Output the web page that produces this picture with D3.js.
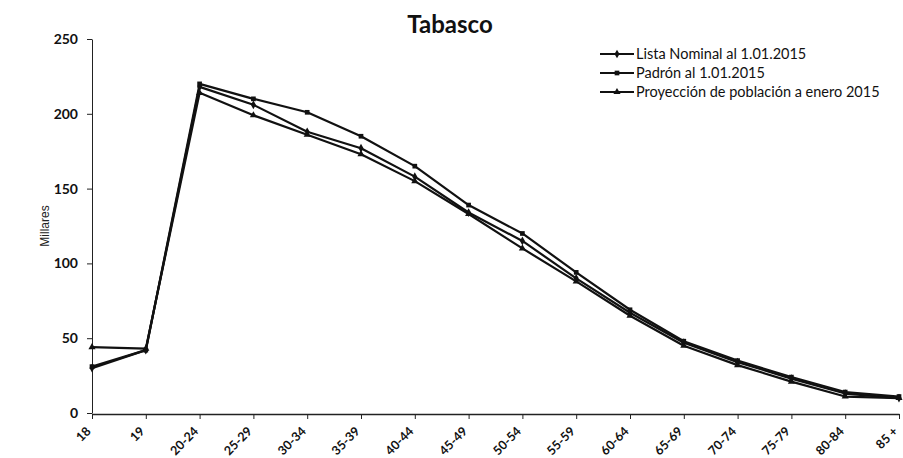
<!DOCTYPE html>
<html><head><meta charset="utf-8">
<script src="https://cdn.jsdelivr.net/npm/d3@7/dist/d3.min.js"></script>
<style>
body{margin:0;background:#fff;}
svg{display:block;}
</style></head>
<body>
<svg id="chart" width="903" height="458"></svg>
<script>
const categories = ["18","19","20-24","25-29","30-34","35-39","40-44","45-49","50-54","55-59","60-64","65-69","70-74","75-79","80-84","85 +"];
const listaNominal = [30, 42, 218, 206, 188, 177, 158, 134, 115, 90, 67, 47, 34, 23, 13, 10];
const padron       = [31, 42, 220, 210, 201, 185, 165, 139, 120, 94, 69, 48, 35, 24, 14, 11];
const proyeccion   = [44, 43, 214, 199, 186, 173, 155, 133, 110, 88, 65, 45, 32, 21, 11, 10];
const seriesNames = ["Lista Nominal al 1.01.2015", "Padrón al 1.01.2015", "Proyección de población a enero 2015"];
const yTicks = [0, 50, 100, 150, 200, 250];

const series = [
  {name: seriesNames[0], values: listaNominal, marker: d3.symbolDiamond},
  {name: seriesNames[1], values: padron, marker: d3.symbolSquare},
  {name: seriesNames[2], values: proyeccion, marker: d3.symbolTriangle}
];

const svg = d3.select("#chart");
const font = "Lato, 'Open Sans', sans-serif";

const x = d3.scalePoint().domain(categories).range([92, 899]);
const y = d3.scaleLinear().domain([0, 250]).range([413, 39]);

// Axes
const yAxis = svg.append("g").attr("transform", "translate(92,0)")
  .call(d3.axisLeft(y).tickValues(yTicks).tickSize(5).tickSizeOuter(0).tickPadding(9));
yAxis.selectAll("text").attr("font-family", font).attr("font-size", 14).attr("font-weight", "bold").attr("fill", "#111");
yAxis.selectAll("line,path").attr("stroke", "#222");

const xAxis = svg.append("g").attr("transform", "translate(0,414)")
  .call(d3.axisBottom(x).tickSize(5).tickSizeOuter(0));
xAxis.select(".domain").attr("stroke", "#222").attr("stroke-width", 1.5);
xAxis.selectAll("line").attr("stroke", "#222");
xAxis.selectAll("text")
  .attr("font-family", font).attr("font-size", 12.5).attr("font-weight", "bold").attr("fill", "#111")
  .attr("text-anchor", "end")
  .attr("x", 0).attr("y", 0).attr("dy", "0.35em")
  .attr("transform", "translate(-4,15) rotate(-45)");

// Lines
const line = d3.line().x((d, i) => x(categories[i])).y(d => y(d));
series.forEach(s => {
  svg.append("path").datum(s.values)
    .attr("fill", "none").attr("stroke", "#111").attr("stroke-width", 2.2)
    .attr("stroke-linejoin", "round").attr("d", line);
  svg.append("g").selectAll("path").data(s.values).join("path")
    .attr("transform", (d, i) => `translate(${x(categories[i])},${y(d)})`)
    .attr("d", d3.symbol().type(s.marker).size(22))
    .attr("fill", "#111");
});

// Title
svg.append("text").attr("x", 450).attr("y", 33).attr("text-anchor", "middle")
  .attr("font-family", font).attr("font-size", 24).attr("font-weight", "bold").attr("fill", "#111")
  .text("Tabasco");

// Y label
svg.append("text").attr("transform", "translate(49,226) rotate(-90)").attr("text-anchor", "middle")
  .attr("font-family", "'Liberation Sans', Arial, sans-serif").attr("font-size", 12).attr("fill", "#222")
  .text("Millares");

// Legend
const legend = svg.append("g");
series.forEach((s, i) => {
  const yy = 54 + i * 19;
  legend.append("line").attr("x1", 600).attr("x2", 634).attr("y1", yy).attr("y2", yy)
    .attr("stroke", "#111").attr("stroke-width", 2.2);
  legend.append("path").attr("transform", `translate(617,${yy})`)
    .attr("d", d3.symbol().type(s.marker).size(22)).attr("fill", "#111");
  legend.append("text").attr("x", 636).attr("y", yy).attr("dy", "0.35em")
    .attr("font-family", font).attr("font-size", 14.5).attr("fill", "#111")
    .text(s.name);
});
</script>
</body></html>
